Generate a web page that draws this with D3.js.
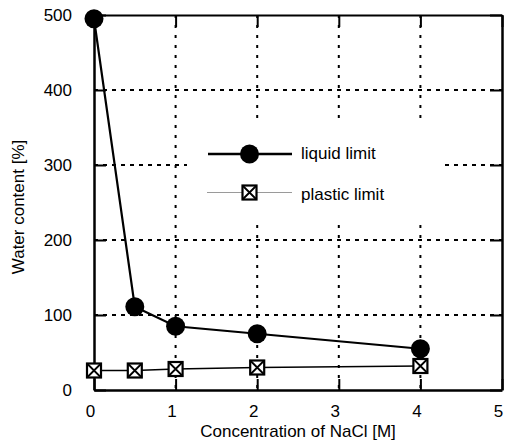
<!DOCTYPE html>
<html>
<head>
<meta charset="utf-8">
<script src="https://cdn.jsdelivr.net/npm/d3@7"></script>
<style>
  body { margin: 0; background: #fff; }
  text { font-family: "Liberation Sans", Arial, Helvetica, sans-serif; fill: #000; }
</style>
</head>
<body>
<svg id="chart" width="507" height="444"></svg>
<script>
// NaCl concentration [M] and the Atterberg limits measured at each one
const concentration = [0, 0.5, 1, 2, 4];
const liquidLimit = [495, 111, 85, 75, 55];
const plasticLimit = [26, 26, 28, 30, 32];
const seriesNames = ["liquid limit", "plastic limit"];
const xTicks = [0, 1, 2, 3, 4, 5];
const yTicks = [0, 100, 200, 300, 400, 500];
const xTitle = "Concentration of NaCl [M]";
const yTitle = "Water content [%]";

const W = 507, H = 444;
const margin = { top: 15, right: 5, bottom: 54, left: 94 };
const svg = d3.select("#chart");

const x = d3.scaleLinear().domain([0, 5]).range([margin.left, W - margin.right]);
const y = d3.scaleLinear().domain([0, 500]).range([H - margin.bottom, margin.top]);

const FONT = 17;

// dotted grid
const grid = svg.append("g");
grid.selectAll("line.h").data(yTicks.slice(1, -1)).join("line")
  .attr("x1", x.range()[0]).attr("x2", x.range()[1])
  .attr("y1", d => y(d)).attr("y2", d => y(d))
  .attr("stroke", "#000").attr("stroke-width", 2).attr("stroke-dasharray", "4,5");
grid.selectAll("line.v").data(xTicks.slice(1, -1)).join("line")
  .attr("x1", d => x(d)).attr("x2", d => x(d))
  .attr("y1", y.range()[1]).attr("y2", y.range()[0])
  .attr("stroke", "#000").attr("stroke-width", 2).attr("stroke-dasharray", "3,7");

// legend background hides the grid behind it
const legendBox = { x0: 187, x1: 441, y0: 120, y1: 222 };
svg.append("rect")
  .attr("x", legendBox.x0).attr("y", legendBox.y0)
  .attr("width", legendBox.x1 - legendBox.x0).attr("height", legendBox.y1 - legendBox.y0)
  .attr("fill", "#fff");

// axes on all four sides, ticks pointing inward
function styleAxis(g, width) {
  g.select(".domain").attr("stroke", "#000").attr("stroke-width", width);
  g.selectAll(".tick line").attr("stroke", "#000").attr("stroke-width", 2);
  g.selectAll(".tick text").attr("font-size", FONT).attr("font-family", null).attr("fill", "#000");
}

const gx = svg.append("g").attr("transform", `translate(0,${y(0)})`)
  .call(d3.axisBottom(x).tickValues(xTicks).tickFormat(d3.format("d"))
    .tickSizeInner(-11).tickSizeOuter(0).tickPadding(15));
styleAxis(gx, 2.5);
gx.selectAll(".tick text").attr("dx", -4);

const gy = svg.append("g").attr("transform", `translate(${x(0)},0)`)
  .call(d3.axisLeft(y).tickValues(yTicks).tickFormat(d3.format("d"))
    .tickSizeInner(-12).tickSizeOuter(0).tickPadding(22));
styleAxis(gy, 2.5);

const gt = svg.append("g").attr("transform", `translate(0,${y(500)})`)
  .call(d3.axisTop(x).tickValues(xTicks).tickFormat("").tickSizeInner(-12).tickSizeOuter(0));
styleAxis(gt, 2);

const gr = svg.append("g").attr("transform", `translate(${x(5)},0)`)
  .call(d3.axisRight(y).tickValues(yTicks).tickFormat("").tickSizeInner(-12).tickSizeOuter(0));
styleAxis(gr, 2.5);

// axis titles
svg.append("text")
  .attr("x", (x.range()[0] + x.range()[1]) / 2).attr("y", 437)
  .attr("text-anchor", "middle").attr("font-size", FONT)
  .text(xTitle);
svg.append("text")
  .attr("transform", "translate(24,207) rotate(-90)")
  .attr("text-anchor", "middle").attr("font-size", FONT)
  .text(yTitle);

// series
const liquidPts = concentration.map((c, i) => [c, liquidLimit[i]]);
const plasticPts = concentration.map((c, i) => [c, plasticLimit[i]]);
const line = d3.line().x(d => x(d[0])).y(d => y(d[1]));

svg.append("path").datum(plasticPts).attr("d", line)
  .attr("fill", "none").attr("stroke", "#000").attr("stroke-width", 1.7);
svg.append("path").datum(liquidPts).attr("d", line)
  .attr("fill", "none").attr("stroke", "#000").attr("stroke-width", 2.2);

const R = 9.5, S = 14;
function crossBox(g) {
  g.append("rect").attr("x", -S / 2).attr("y", -S / 2).attr("width", S).attr("height", S)
    .attr("fill", "#fff").attr("stroke", "#000").attr("stroke-width", 2.2);
  g.append("path").attr("d", `M${-S / 2},${-S / 2}L${S / 2},${S / 2}M${S / 2},${-S / 2}L${-S / 2},${S / 2}`)
    .attr("stroke", "#000").attr("stroke-width", 1.8).attr("fill", "none");
}

svg.append("g").selectAll("circle").data(liquidPts).join("circle")
  .attr("cx", d => x(d[0])).attr("cy", d => y(d[1])).attr("r", R).attr("fill", "#000");

svg.append("g").selectAll("g").data(plasticPts).join("g")
  .attr("transform", d => `translate(${x(d[0])},${y(d[1])})`)
  .each(function () { crossBox(d3.select(this)); });

// legend
const legend = svg.append("g");
const lgX0 = 208, lgX1 = 292, lgMid = 249.5, lgText = 301;
legend.append("line").attr("x1", lgX0).attr("x2", lgX1).attr("y1", 154).attr("y2", 154)
  .attr("stroke", "#000").attr("stroke-width", 2.5);
legend.append("circle").attr("cx", lgMid).attr("cy", 154).attr("r", R).attr("fill", "#000");
legend.append("text").attr("x", lgText).attr("y", 159).attr("font-size", FONT).text(seriesNames[0]);

legend.append("line").attr("x1", lgX0 - 1).attr("x2", lgX1).attr("y1", 192.5).attr("y2", 192.5)
  .attr("stroke", "#9a9a9a").attr("stroke-width", 1.2);
crossBox(legend.append("g").attr("transform", `translate(${lgMid},192.5)`));
legend.append("text").attr("x", lgText).attr("y", 200).attr("font-size", FONT).text(seriesNames[1]);
</script>
</body>
</html>
